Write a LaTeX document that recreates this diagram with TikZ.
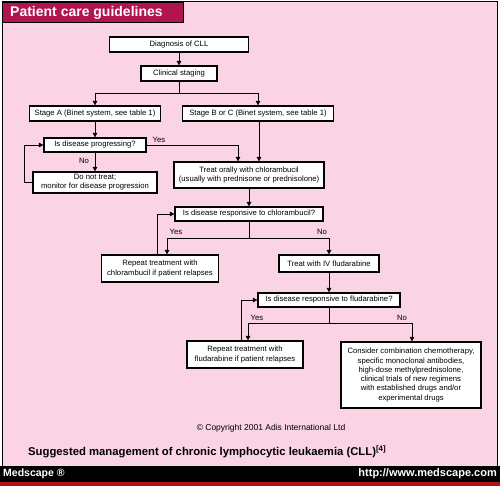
\documentclass[tikz,border=0pt]{standalone}
\usepackage{fontspec}
\setmainfont{Liberation Sans}
\usetikzlibrary{arrows.meta}
\definecolor{pinkbg}{RGB}{250,211,229}
\definecolor{hdr}{RGB}{178,20,80}
\definecolor{redbar}{RGB}{175,20,20}
\begin{document}
\begin{tikzpicture}[x=1pt,y=-1pt,
  box/.style={draw=black,line width=1.2pt,fill=white,inner sep=0pt,align=center,
    font=\fontsize{7.7}{9.3}\selectfont},
  arr/.style={line width=0.6pt,-{Triangle[length=4.5pt,width=4.5pt]}},
  ln/.style={line width=0.6pt},
  lbl/.style={font=\fontsize{7.7}{9}\selectfont,inner sep=0pt}]
\useasboundingbox (0,0) rectangle (500,486);
\fill[white] (0,0) rectangle (500,486);
\draw[fill=pinkbg,line width=1pt] (2,2) rectangle (497,466);
\fill[black] (0,466) rectangle (500,482);
\fill[redbar] (0,482) rectangle (500,486);
\draw[fill=hdr,line width=0.8pt] (2,2) rectangle (183,22);
\node[anchor=west,text=white,font=\fontsize{14}{14}\bfseries,inner sep=0pt] (title) at (10,12.5) {Patient care guidelines};
\node[anchor=west,text=white,font=\fontsize{10.5}{10.5}\bfseries,inner sep=0pt] (ms) at (3,474) {Medscape ®};
\node[anchor=east,text=white,font=\fontsize{11}{11}\bfseries,inner sep=0pt] (url) at (497,474) {http://www.medscape.com};

\node[box,minimum width=139pt,minimum height=15pt] (diag) at (179,44.5) {Diagnosis of CLL};
\node[box,minimum width=76pt,minimum height=15pt] (stag) at (179,73.5) {Clinical staging};
\node[box,minimum width=131pt,minimum height=15pt] (sA) at (95,113.5) {Stage A (Binet system, see table 1)};
\node[box,minimum width=151pt,minimum height=15pt] (sB) at (258,113.5) {Stage B or C (Binet system, see table 1)};
\node[box,minimum width=102pt,minimum height=14pt] (prog) at (95,145) {Is disease progressing?};
\node[box,minimum width=124pt,minimum height=21pt] (dnt) at (95,182.5) {Do not treat;\\monitor for disease progression};
\node[box,minimum width=150pt,minimum height=26pt] (treat) at (249,175) {Treat orally with chlorambucil\\(usually with prednisone or prednisolone)};
\node[box,minimum width=148pt,minimum height=14pt] (respC) at (249,214) {Is disease responsive to chlorambucil?};
\node[box,minimum width=117pt,minimum height=27pt] (repC) at (160,268.5) {Repeat treatment with\\chlorambucil if patient relapses};
\node[box,minimum width=100pt,minimum height=17pt] (iv) at (329,263.5) {Treat with IV fludarabine};
\node[box,minimum width=142pt,minimum height=14pt] (respF) at (329,300) {Is disease responsive to fludarabine?};
\node[box,minimum width=116pt,minimum height=27pt] (repF) at (245,354.5) {Repeat treatment with\\fludarabine if patient relapses};
\node[box,minimum width=140pt,minimum height=66pt] (cons) at (411,375) {Consider combination chemotherapy,\\specific monoclonal antibodies,\\high-dose methylprednisolone,\\clinical trials of new regimens\\with established drugs and/or\\experimental drugs};

\coordinate (b1) at (179,93);
\coordinate (b2) at (249,238);
\coordinate (b3) at (329,323);

\draw[arr] (diag) -- (stag);
\draw[ln] (stag.south) -- (b1);
\draw[arr] (b1) -| (sA.north);
\draw[arr] (b1) -| (sB.north);
\draw[arr] (sA) -- (prog);
\draw[arr] (prog.east) -| ([xshift=-11pt]treat.north);
\draw[arr] (prog) -- (dnt);
\draw[arr] (dnt.west) -- ++(-8,0) |- (prog.west);
\draw[arr] (sB.south -| treat.north) ++(10,0) -- ([xshift=10pt]treat.north);
\draw[arr] (treat) -- (respC);
\draw[ln] (respC.south) -- (b2);
\draw[arr] (b2) -| ([xshift=7pt]repC.north);
\draw[arr] (b2) -| (iv.north);
\draw[arr] ([xshift=-3pt]repC.north) |- (respC.west);
\draw[arr] (iv) -- (respF);
\draw[ln] (respF.south) -- (b3);
\draw[arr] (b3) -| ([xshift=3pt]repF.north);
\draw[arr] (b3) -| ([xshift=1pt]cons.north);
\draw[arr] ([xshift=-4pt]repF.north) |- (respF.west);

\node[lbl] (y1) at (159,139.5) {Yes};
\node[lbl] (n1) at (84,160.5) {No};
\node[lbl] (y2) at (176,232) {Yes};
\node[lbl] (n2) at (322,232) {No};
\node[lbl] (y3) at (257,318) {Yes};
\node[lbl] (n3) at (402,318) {No};

\node[font=\fontsize{8.5}{9}\selectfont,inner sep=0pt] (copy) at (271,428) {© Copyright 2001 Adis International Ltd};
\node[anchor=west,font=\fontsize{11.3}{11.3}\bfseries,inner sep=0pt] (cap) at (28,452) {Suggested management of chronic lymphocytic leukaemia (CLL)\textsuperscript{[4]}};
\end{tikzpicture}
\end{document}
